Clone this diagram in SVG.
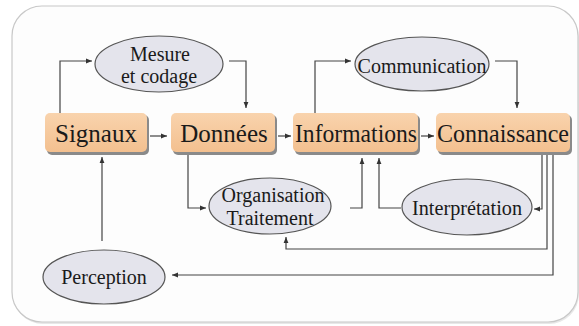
<svg xmlns="http://www.w3.org/2000/svg" width="579" height="326" viewBox="0 0 579 326">
<defs>
<marker id="ah" viewBox="0 0 10 10" refX="10" refY="5" markerWidth="6" markerHeight="6" orient="auto" markerUnits="userSpaceOnUse">
<path d="M0,1 L10,5 L0,9 z" fill="#333"/>
</marker>
<linearGradient id="boxg" x1="0" y1="0" x2="0" y2="1">
<stop offset="0" stop-color="#f9d3ad"/>
<stop offset="1" stop-color="#f3c08f"/>
</linearGradient>
</defs>
<style>
.box{fill:url(#boxg);}
.shadow{fill:#8a8a8a;}
.ell{fill:#e4e4ec;stroke:#555;stroke-width:1.2;}
.big{font-family:"Liberation Serif","Times New Roman",serif;font-size:25px;fill:#1a1a1a;text-anchor:middle;}
.sm{font-family:"Liberation Serif","Times New Roman",serif;font-size:20px;fill:#1a1a1a;text-anchor:middle;}
.con{fill:none;stroke:#444;stroke-width:1.2;marker-end:url(#ah);}
</style>
<rect x="0" y="0" width="579" height="326" fill="#ffffff"/>
<rect x="13" y="8" width="566" height="316" rx="30" ry="30" fill="#e8e8e8"/>
<rect x="12" y="6" width="566" height="316" rx="30" ry="30" fill="#fdfdfd" stroke="#c8c8c8" stroke-width="1.2"/>

<g id="connectors">
<path class="con" d="M60,113 V61 H92"/>
<path class="con" d="M229,61 H246 V108"/>
<path class="con" d="M150,136 H167"/>
<path class="con" d="M278,136 H291"/>
<path class="con" d="M421,136 H434"/>
<path class="con" d="M315,113 V61 H351"/>
<path class="con" d="M495,61 H517 V108"/>
<path class="con" d="M102,241 V157"/>
<path class="con" d="M188,154 V208 H206"/>
<path class="con" d="M350,208 H362 V158"/>
<path class="con" d="M401,208 H379 V158"/>
<path class="con" d="M542,154 V209 H534"/>
<path class="con" d="M547,154 V249 H286 V237"/>
<path class="con" d="M553,154 V275 H172"/>
</g>

<g id="signaux">
<rect class="shadow" x="47" y="115" width="102" height="40" rx="5"/>
<rect class="box" x="45" y="113" width="102" height="39" rx="5"/>
<text class="big" x="96" y="142">Signaux</text>
</g>
<g id="donnees">
<rect class="shadow" x="173" y="115" width="104" height="40" rx="5"/>
<rect class="box" x="171" y="113" width="104" height="39" rx="5"/>
<text class="big" x="224" y="142">Données</text>
</g>
<g id="informations">
<rect class="shadow" x="295" y="115" width="125" height="40" rx="5"/>
<rect class="box" x="293" y="113" width="125" height="39" rx="5"/>
<text class="big" x="356" y="142" textLength="122" lengthAdjust="spacingAndGlyphs">Informations</text>
</g>
<g id="connaissance">
<rect class="shadow" x="438" y="115" width="134" height="40" rx="5"/>
<rect class="box" x="436" y="113" width="134" height="39" rx="5"/>
<text class="big" x="503" y="142" textLength="132" lengthAdjust="spacingAndGlyphs">Connaissance</text>
</g>

<g id="mesure">
<ellipse class="ell" cx="159" cy="64" rx="64" ry="28"/>
<text class="sm" x="160" y="61">Mesure</text>
<text class="sm" x="159" y="83">et codage</text>
</g>
<g id="communication">
<ellipse class="ell" cx="422" cy="64" rx="67" ry="27"/>
<text class="sm" x="422" y="73">Communication</text>
</g>
<g id="organisation">
<ellipse class="ell" cx="270" cy="206" rx="61" ry="28"/>
<text class="sm" x="273" y="202">Organisation</text>
<text class="sm" x="270" y="225">Traitement</text>
</g>
<g id="interpretation">
<ellipse class="ell" cx="467" cy="207" rx="65" ry="28"/>
<text class="sm" x="467" y="215" textLength="110" lengthAdjust="spacingAndGlyphs">Interprétation</text>
</g>
<g id="perception">
<ellipse class="ell" cx="104" cy="277" rx="61" ry="27"/>
<text class="sm" x="104" y="284">Perception</text>
</g>
</svg>
